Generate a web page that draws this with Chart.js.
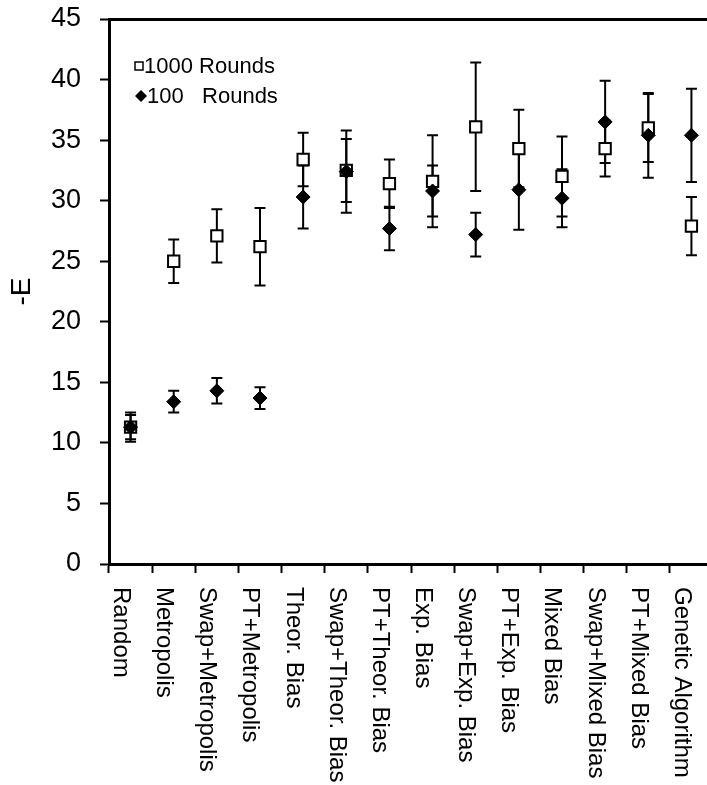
<!DOCTYPE html>
<html>
<head>
<meta charset="utf-8">
<script src="https://cdn.jsdelivr.net/npm/chart.js@4.4.0/dist/chart.umd.min.js"></script>
<style>
  html, body { margin: 0; padding: 0; background: #fff; overflow: hidden; }
  #wrap { width: 713px; height: 785px; }
</style>
</head>
<body>
<div id="wrap"><canvas id="chart"></canvas></div>
<script>
var categories = ['Random', 'Metropolis', 'Swap+Metropolis', 'PT+Metropolis', 'Theor. Bias',
    'Swap+Theor. Bias', 'PT+Theor. Bias', 'Exp. Bias', 'Swap+Exp. Bias', 'PT+Exp. Bias',
    'Mixed Bias', 'Swap+Mixed Bias', 'PT+Mixed Bias', 'Genetic Algorithm'];

var rounds1000 = [11.3, 25.0, 27.1, 26.2, 33.4, 32.5, 31.4, 31.6, 36.1, 34.3, 32.0, 34.3, 36.0, 27.9];
var err1000    = [1.2, 1.8, 2.2, 3.2, 2.2, 2.6, 2.0, 3.8, 5.3, 3.2, 3.3, 2.3, 2.8, 2.4];

var rounds100 = [11.3, 13.4, 14.3, 13.7, 30.3, 32.4, 27.7, 30.8, 27.2, 30.9, 30.2, 36.5, 35.4, 35.4];
var err100    = [1.0, 0.9, 1.05, 0.9, 2.6, 3.4, 1.8, 2.1, 1.8, 3.3, 2.4, 3.4, 3.5, 3.85];

var yTicks = [0, 5, 10, 15, 20, 25, 30, 35, 40, 45];

var FONT = '"Liberation Sans", Arial, sans-serif';

// error bars, drawn under the markers
var errorBars = {
    id: 'errorBars',
    beforeDatasetsDraw: function(chart) {
        var ctx = chart.ctx;
        var y = chart.scales.y;
        ctx.save();
        ctx.strokeStyle = '#000';
        ctx.lineWidth = 2;
        chart.data.datasets.forEach(function(ds, di) {
            var meta = chart.getDatasetMeta(di);
            meta.data.forEach(function(pt, i) {
                var v = ds.data[i], e = ds.errors[i];
                var top = y.getPixelForValue(v + e);
                var bot = y.getPixelForValue(v - e);
                ctx.beginPath();
                ctx.moveTo(pt.x, top); ctx.lineTo(pt.x, bot);
                ctx.moveTo(pt.x - 5.5, top); ctx.lineTo(pt.x + 5.5, top);
                ctx.moveTo(pt.x - 5.5, bot); ctx.lineTo(pt.x + 5.5, bot);
                ctx.stroke();
            });
        });
        ctx.restore();
    }
};

// rotated category labels (clockwise) and the small legend box
var labelsAndLegend = {
    id: 'labelsAndLegend',
    afterDraw: function(chart) {
        var ctx = chart.ctx;
        var x = chart.scales.x;
        ctx.save();
        ctx.fillStyle = '#000';
        ctx.font = '24px ' + FONT;
        ctx.textAlign = 'left';
        ctx.textBaseline = 'middle';
        categories.forEach(function(c, i) {
            ctx.save();
            ctx.translate(x.getPixelForValue(i) - 10, 587);
            ctx.rotate(Math.PI / 2);
            ctx.fillText(c, 0, 0);
            ctx.restore();
        });

        ctx.font = '22px ' + FONT;
        // 1000 Rounds
        ctx.lineWidth = 1.5;
        ctx.strokeStyle = '#000';
        ctx.fillStyle = '#fff';
        ctx.fillRect(135, 62, 8, 8);
        ctx.strokeRect(135, 62, 8, 8);
        ctx.fillStyle = '#000';
        ctx.fillText(chart.data.datasets[0].label, 144, 67);
        // 100 Rounds
        ctx.beginPath();
        ctx.moveTo(135, 96); ctx.lineTo(141, 90); ctx.lineTo(147, 96); ctx.lineTo(141, 102);
        ctx.closePath();
        ctx.fill();
        ctx.fillText(chart.data.datasets[1].label, 147, 97);
        ctx.restore();
    }
};

new Chart(document.getElementById('chart'), {
    type: 'line',
    data: {
        labels: categories,
        datasets: [{
            label: '1000 Rounds',
            data: rounds1000,
            errors: err1000,
            showLine: false,
            pointStyle: 'rect',
            pointRadius: 8,
            pointBorderWidth: 2,
            pointBackgroundColor: '#fff',
            pointBorderColor: '#000',
            order: 1
        }, {
            label: '100   Rounds',
            data: rounds100,
            errors: err100,
            showLine: false,
            pointStyle: 'rectRot',
            pointRadius: 7,
            pointBorderWidth: 1,
            pointBackgroundColor: '#000',
            pointBorderColor: '#000',
            order: 0
        }]
    },
    options: {
        responsive: true,
        maintainAspectRatio: false,
        animation: false,
        layout: { autoPadding: false, padding: { left: 0, top: 19, right: 0, bottom: 212 } },
        plugins: {
            legend: { display: false },
            tooltip: { enabled: false }
        },
        scales: {
            x: {
                offset: true,
                afterFit: function(s) {
                    s.paddingLeft = 0;
                    s.paddingRight = 0;
                },
                grid: {
                    offset: true,
                    drawOnChartArea: false,
                    tickLength: 9,
                    tickWidth: 2,
                    tickColor: '#000'
                },
                border: { color: '#000', width: 3 },
                ticks: { display: false }
            },
            y: {
                min: 0,
                max: 45,
                afterBuildTicks: function(s) {
                    s.ticks = yTicks.map(function(v) { return { value: v }; });
                },
                afterFit: function(s) {
                    s.width = 109;
                    s.paddingTop = 0;
                    s.paddingBottom = 0;
                },
                grid: {
                    color: function(c) { return c.tick && c.tick.value === 45 ? '#000' : 'rgba(0,0,0,0)'; },
                    lineWidth: 3,
                    tickLength: 9,
                    tickWidth: 2,
                    tickColor: '#000'
                },
                border: { color: '#000', width: 3 },
                ticks: {
                    color: '#000',
                    padding: 19,
                    font: { family: FONT, size: 27 }
                },
                title: {
                    display: true,
                    text: '-E',
                    color: '#000',
                    padding: { top: 5, bottom: 0 },
                    font: { family: FONT, size: 28 }
                }
            }
        }
    },
    plugins: [errorBars, labelsAndLegend]
});
</script>
</body>
</html>
